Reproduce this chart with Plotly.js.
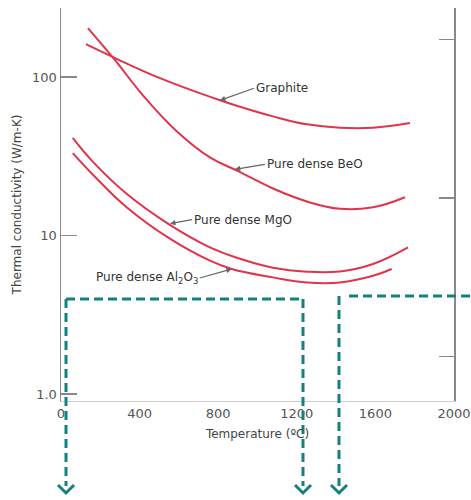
<!DOCTYPE html>
<html>
<head>
<meta charset="utf-8">
<script src="https://cdn.plot.ly/plotly-3.0.1.min.js"></script>
<style>html,body{margin:0;padding:0;background:#fff;}#chart{width:471px;height:500px;}</style>
</head>
<body>
<div id="chart"></div>
<script>
// Temperature (°C) and thermal conductivity (W/m-K)
const graphiteT = [127, 265, 504, 809, 911, 1079, 1252, 1420, 1588, 1776];
const graphiteK = [161.8, 133.9, 98.6, 71.5, 65.1, 56.6, 50.4, 48.0, 48.0, 51.4];

const beoT = [137, 275, 417, 590, 758, 911, 1079, 1252, 1420, 1588, 1751];
const beoK = [204.2, 128.1, 76.9, 45.5, 31.2, 25.2, 19.84, 16.42, 14.76, 15.11, 17.48];

const mgoT = [60, 164, 334, 546, 758, 911, 1079, 1252, 1420, 1588, 1766];
const mgoK = [41.4, 29.1, 18.36, 11.86, 8.43, 7.15, 6.27, 5.92, 5.94, 6.62, 8.43];

const al2o3T = [60, 164, 334, 546, 758, 869, 1079, 1252, 1420, 1588, 1683];
const al2o3K = [33.2, 24.15, 15.11, 9.71, 6.95, 6.16, 5.45, 5.06, 5.06, 5.58, 6.16];

const xTicks = [0, 400, 800, 1200, 1600, 2000];
const yTicks = [1, 10, 100];
const yTickText = ['1.0', '10', '100'];
const rightTicks = [1, 10, 100]; // secondary scale (Btu/ft-h-°F)

const labels = ['Graphite', 'Pure dense BeO', 'Pure dense MgO', 'Pure dense Al<sub>2</sub>O<sub>3</sub>'];
const labelPointT = [809, 885, 555, 869];
const labelPointK = [71.5, 26.2, 11.9, 6.16];

const red = '#e0344c';
const teal = '#15807c';
const grey = '#555';
const FONT = 'DejaVu Sans, sans-serif';

function curve(x, y) {
  return {x: x, y: y, type: 'scatter', mode: 'lines',
    line: {color: red, width: 2, shape: 'spline', smoothing: 1.2},
    hoverinfo: 'skip', showlegend: false};
}

const traces = [
  curve(graphiteT, graphiteK),
  curve(beoT, beoK),
  curve(mgoT, mgoK),
  curve(al2o3T, al2o3K),
  {x: [null], y: [null], yaxis: 'y2', type: 'scatter', mode: 'lines', showlegend: false, hoverinfo: 'skip'}
];

const conv = 0.5779; // W/m-K -> Btu/ft-h-°F
const yr = [-0.044, 2.437];

// label offsets (pixels) from arrow head to text anchor
const axOff = [34, 30, 22, -32];
const ayOff = [-12, -5, -4, 9];
const anchors = ['left', 'left', 'left', 'right'];

const annotations = labels.map((t, i) => ({
  x: labelPointT[i], y: Math.log10(labelPointK[i]), xref: 'x', yref: 'y',
  text: t, showarrow: true, ax: axOff[i], ay: ayOff[i],
  xanchor: anchors[i], yanchor: 'middle',
  arrowhead: 2, arrowsize: 0.9, arrowwidth: 1.2, arrowcolor: '#666',
  font: {family: FONT, size: 12, color: '#333'}
}));

// decorative teal dashed guides (paper coordinates)
function px2x(p) { return (p - 61) / 393; }
function py2y(p) { return (401 - p) / 393; }
const dash = {color: teal, width: 3, dash: '9px,5px'};
const solid = {color: teal, width: 3};
function seg(x0, y0, x1, y1, ln) {
  return {type: 'line', xref: 'paper', yref: 'paper', x0: px2x(x0), y0: py2y(y0), x1: px2x(x1), y1: py2y(y1), line: ln, layer: 'above'};
}
function chevron(x, y) {
  return {type: 'path', xref: 'paper', yref: 'paper',
    path: 'M ' + px2x(x - 8) + ' ' + py2y(y - 8) + ' L ' + px2x(x) + ' ' + py2y(y) + ' L ' + px2x(x + 8) + ' ' + py2y(y - 8),
    line: solid, layer: 'above'};
}
const shapes = [
  seg(66, 299, 303, 299, dash),
  seg(66, 299, 66, 486, dash),
  seg(303, 299, 303, 486, dash),
  seg(339, 296, 339, 486, dash),
  seg(349, 296, 471, 296, dash),
  chevron(66, 493), chevron(303, 493), chevron(339, 493)
];

const layout = {
  width: 471, height: 500,
  margin: {l: 61, r: 17, t: 8, b: 99},
  paper_bgcolor: '#fff', plot_bgcolor: '#fff',
  font: {family: FONT, size: 12, color: grey},
  showlegend: false,
  xaxis: {
    range: [0, 2000], tickvals: xTicks, ticks: '', showgrid: false, zeroline: false,
    showline: true, linecolor: '#d0d0d0', linewidth: 1,
    tickfont: {family: FONT, size: 13, color: grey},
    title: {text: 'Temperature (ºC)', font: {family: FONT, size: 12, color: '#444'}, standoff: 10}
  },
  yaxis: {
    type: 'log', range: yr, tickvals: yTicks, ticktext: yTickText,
    ticks: 'inside', ticklen: 16, tickwidth: 1.5, tickcolor: '#888',
    showgrid: false, zeroline: false, showline: true, linecolor: '#888', linewidth: 1.5,
    tickfont: {family: FONT, size: 13, color: grey},
    title: {text: 'Thermal conductivity (W/m-K)', font: {family: FONT, size: 12, color: '#444'}, standoff: 8}
  },
  yaxis2: {
    type: 'log', overlaying: 'y', side: 'right', anchor: 'x',
    range: [yr[0] + Math.log10(conv), yr[1] + Math.log10(conv)],
    tickvals: rightTicks, showticklabels: false,
    ticks: 'inside', ticklen: 15, tickwidth: 1.5, tickcolor: '#888',
    showgrid: false, zeroline: false, showline: true, linecolor: '#888', linewidth: 1.5
  },
  annotations: annotations,
  shapes: shapes
};

Plotly.newPlot('chart', traces, layout, {displayModeBar: false, staticPlot: true});
</script>
</body>
</html>
